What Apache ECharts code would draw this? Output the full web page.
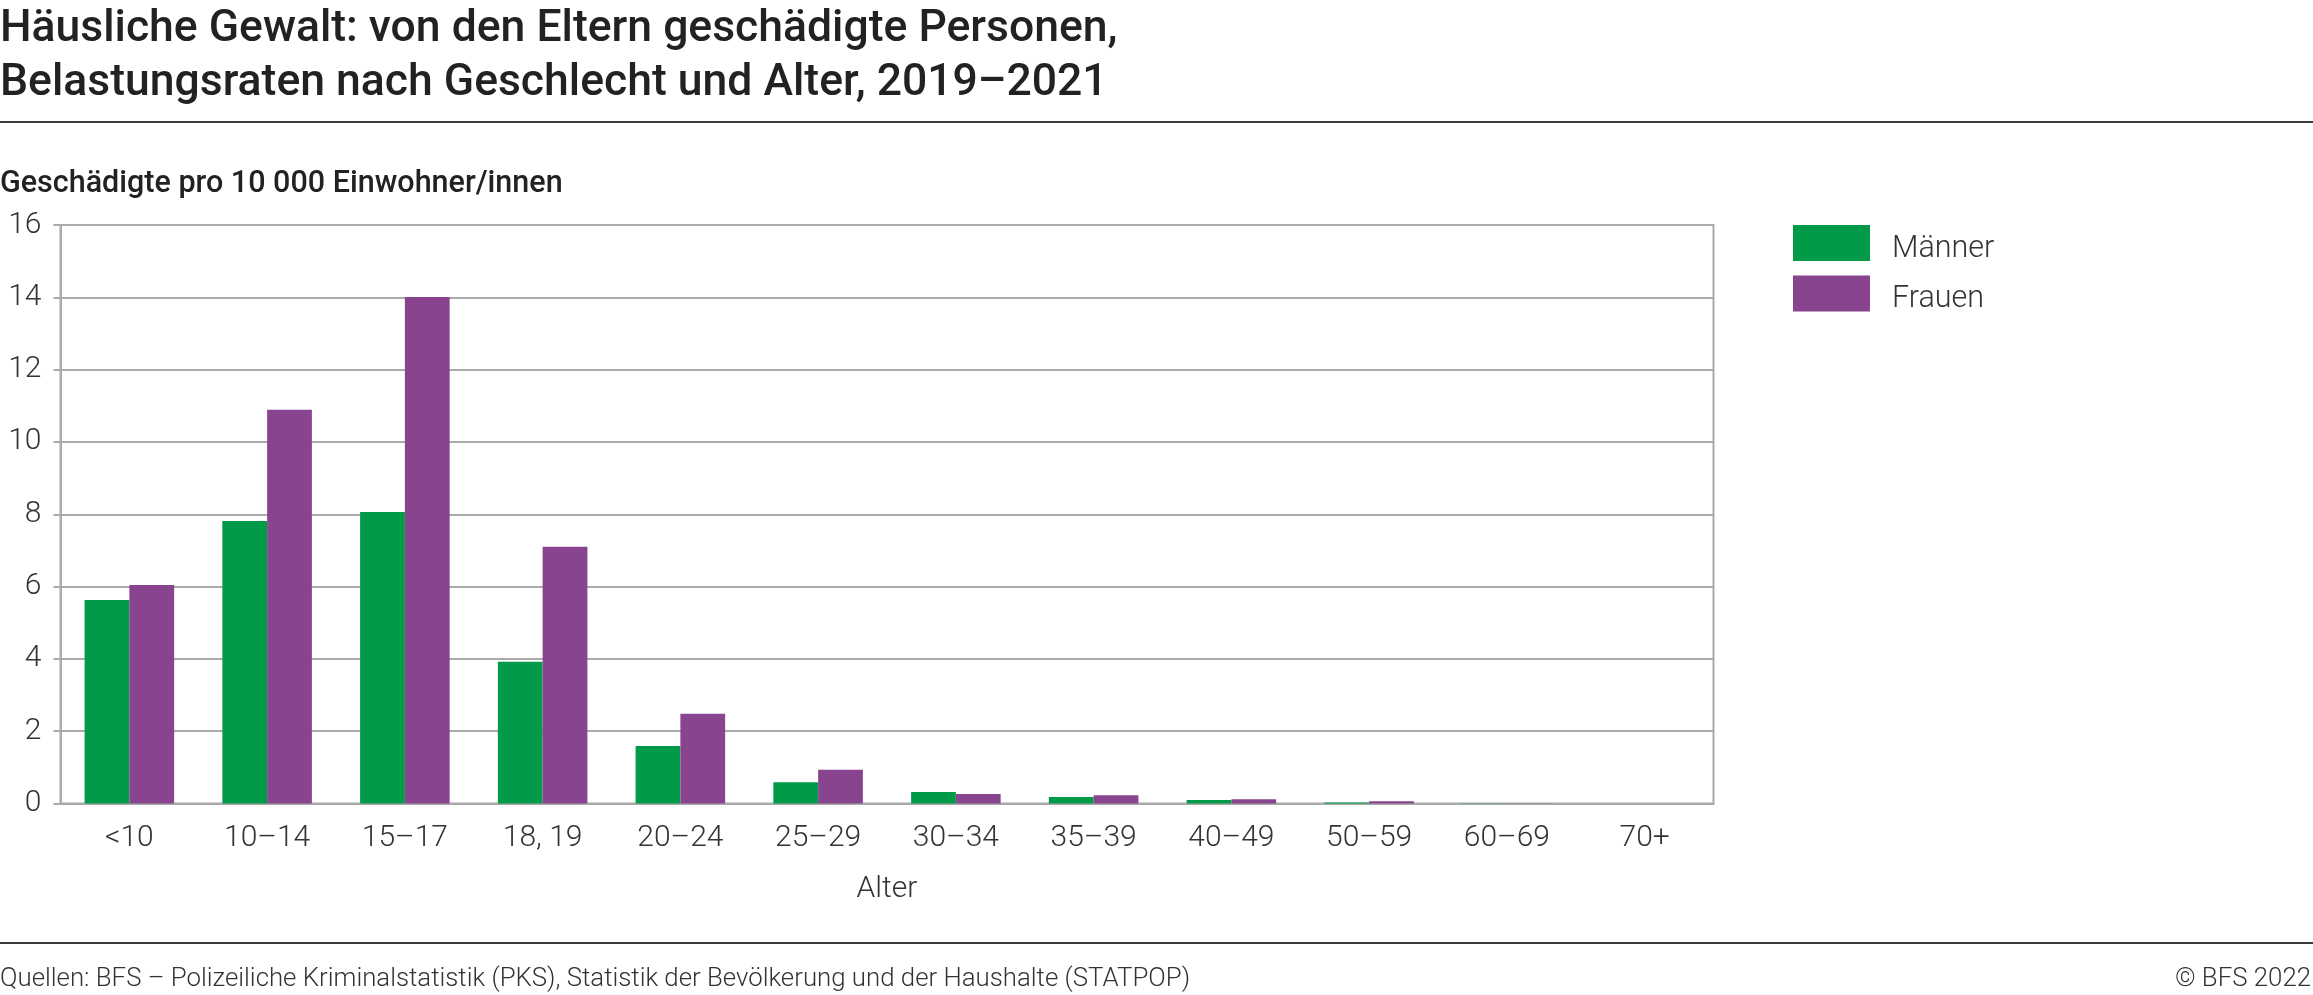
<!DOCTYPE html>
<html>
<head>
<meta charset="utf-8">
<script src="https://cdn.jsdelivr.net/npm/echarts@6/dist/echarts.min.js"></script>
<style>
html,body{margin:0;padding:0;background:#fff;}
#chart{width:2313px;height:995px;}
</style>
</head>
<body>
<div id="chart"></div>
<script>
var categories = ['<10', '10–14', '15–17', '18, 19', '20–24', '25–29', '30–34', '35–39', '40–49', '50–59', '60–69', '70+'];
var maenner = [5.63, 7.81, 8.06, 3.92, 1.59, 0.59, 0.32, 0.18, 0.10, 0.03, 0.01, 0];
var frauen = [6.04, 10.89, 14.01, 7.10, 2.48, 0.93, 0.26, 0.23, 0.12, 0.06, 0.01, 0];
var seriesNames = ['Männer', 'Frauen'];
var titleText = 'Häusliche Gewalt: von den Eltern geschädigte Personen,\nBelastungsraten nach Geschlecht und Alter, 2019–2021';
var yAxisTitle = 'Geschädigte pro 10 000 Einwohner/innen';
var xAxisTitle = 'Alter';
var sourceText = 'Quellen: BFS – Polizeiliche Kriminalstatistik (PKS), Statistik der Bevölkerung und der Haushalte (STATPOP)';
var copyrightText = '© BFS 2022';

var FONT = 'Roboto, "Noto Sans", sans-serif';
var chart = echarts.init(document.getElementById('chart'), null, {renderer: 'canvas'});
chart.setOption({
  animation: false,
  backgroundColor: '#ffffff',
  textStyle: {fontFamily: FONT},
  title: [
    {text: titleText, left: 0, top: 3, padding: 0,
     textStyle: {fontFamily: FONT, fontSize: 44.5, fontWeight: 500, color: '#222222', lineHeight: 54}},
    {text: yAxisTitle, left: 0, top: 169, padding: 0,
     textStyle: {fontFamily: FONT, fontSize: 30.5, fontWeight: 500, color: '#222222'}},
    {text: sourceText, left: 0, top: 967, padding: 0,
     textStyle: {fontFamily: FONT, fontSize: 25.8, fontWeight: 300, color: '#333333'}},
    {text: copyrightText, right: 2, top: 967, padding: 0,
     textStyle: {fontFamily: FONT, fontSize: 25.8, fontWeight: 300, color: '#333333'}}
  ],
  graphic: [
    {type: 'rect', shape: {x: 0, y: 121, width: 2313, height: 2}, style: {fill: '#3a3a3a'}},
    {type: 'rect', shape: {x: 0, y: 942, width: 2313, height: 2}, style: {fill: '#3a3a3a'}}
  ],
  legend: {
    orient: 'vertical', left: 1793, top: 225, padding: 0,
    itemWidth: 77, itemHeight: 36, itemGap: 11, icon: 'rect',
    data: seriesNames,
    formatter: '{n|{name}}',
    textStyle: {
      fontFamily: FONT, fontSize: 30.5, fontWeight: 300, color: '#333333',
      rich: {n: {fontFamily: FONT, fontSize: 30.5, fontWeight: 300, color: '#333333', padding: [12, 0, 0, 17]}}
    }
  },
  grid: {left: 60.5, right: 599.5, top: 225, bottom: 191.5, show: true,
         borderColor: '#aaaaaa', borderWidth: 2, backgroundColor: 'transparent'},
  xAxis: {
    type: 'category', data: categories,
    name: xAxisTitle, nameLocation: 'middle', nameGap: 71,
    nameTextStyle: {fontFamily: FONT, fontSize: 30, fontWeight: 300, color: '#333333'},
    axisLine: {lineStyle: {color: '#aaaaaa', width: 2}},
    axisTick: {show: false},
    axisLabel: {margin: 20, fontFamily: FONT, fontSize: 30, fontWeight: 300, color: '#333333'}
  },
  yAxis: {
    type: 'value', min: 0, max: 16, interval: 2,
    axisLine: {show: true, lineStyle: {color: '#aaaaaa', width: 2}},
    axisTick: {show: true, length: 7, lineStyle: {color: '#aaaaaa', width: 2}},
    splitLine: {lineStyle: {color: '#aaaaaa', width: 2}},
    axisLabel: {margin: 19, fontFamily: FONT, fontSize: 30, fontWeight: 300, color: '#333333'}
  },
  series: [
    {name: seriesNames[0], type: 'bar', data: maenner, barGap: '0%', barCategoryGap: '35%',
     itemStyle: {color: '#009a48'}},
    {name: seriesNames[1], type: 'bar', data: frauen, barGap: '0%', barCategoryGap: '35%',
     itemStyle: {color: '#88448f'}}
  ]
});
</script>
</body>
</html>
